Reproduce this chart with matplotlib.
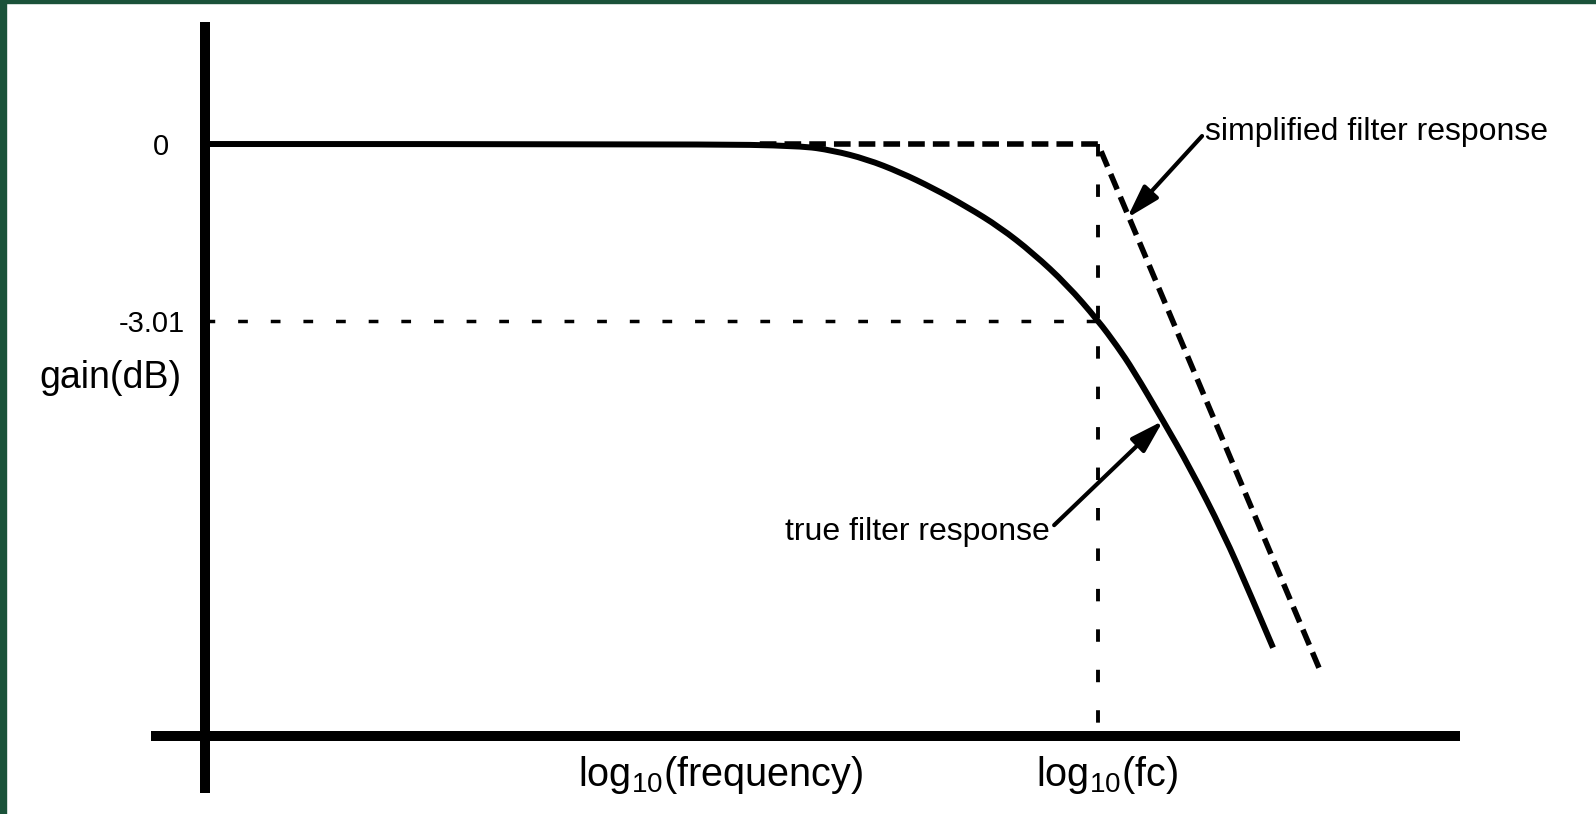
import matplotlib
matplotlib.use('Agg')
import matplotlib.pyplot as plt
from matplotlib.patches import Rectangle, PathPatch
from matplotlib.path import Path

plt.rcParams['font.family'] = ['Liberation Sans', 'DejaVu Sans']
plt.rcParams['mathtext.default'] = 'regular'

# x: log10(f / fc) in decades, y: gain in dB
true_x = [-1.812, -0.807, -0.604, -0.538, -0.469, -0.402, -0.335, -0.266,
          -0.199, -0.132, -0.063, 0.0, 0.039, 0.071, 0.132, 0.187, 0.254,
          0.308, 0.355]
true_db = [0.0, 0.0, -0.03, -0.11, -0.26, -0.48, -0.75, -1.07, -1.42,
           -1.86, -2.40, -3.01, -3.45, -3.85, -4.72, -5.53, -6.63, -7.66,
           -8.59]

simple_x = [-0.686, 0.0, 0.450]
simple_db = [0.0, 0.0, -8.97]

fc_x = 0.0
cutoff_db = -3.01
gain_tick_labels = ['0', '-3.01']

# axis extents (decades / dB)
yaxis_x = -1.812
xaxis_db = -10.10


def smooth_path(xs, ys):
    # quadratic b-spline through the read points, so the curve has no kinks
    pts = list(zip(xs, ys))
    verts = [pts[0]]
    codes = [Path.MOVETO]
    for i in range(1, len(pts) - 2):
        mid = ((pts[i][0] + pts[i + 1][0]) / 2, (pts[i][1] + pts[i + 1][1]) / 2)
        verts += [pts[i], mid]
        codes += [Path.CURVE3, Path.CURVE3]
    verts += [pts[-2], pts[-1]]
    codes += [Path.CURVE3, Path.CURVE3]
    return Path(verts, codes)


fig = plt.figure(figsize=(15.96, 8.14), dpi=100)
ax = fig.add_axes([0, 0, 1, 1])
ax.set_xlim(-2.227, 1.010)
ax.set_ylim(-11.426, 2.456)
ax.set_xticks([])
ax.set_yticks([])

for side in ['top', 'right']:
    ax.spines[side].set_visible(False)
ax.spines['left'].set_position(('data', yaxis_x))
ax.spines['left'].set_bounds(-11.07, 2.08)
ax.spines['bottom'].set_position(('data', xaxis_db))
ax.spines['bottom'].set_bounds(-1.921, 0.734)
for side in ['left', 'bottom']:
    ax.spines[side].set_linewidth(7.2)
    ax.spines[side].set_capstyle('butt')

# dotted guides at the cutoff
ax.plot([yaxis_x, fc_x], [cutoff_db, cutoff_db], color='black', lw=2.5,
        dashes=(2.8, 6.6), dash_capstyle='butt')
ax.plot([fc_x, fc_x], [0, xaxis_db], color='black', lw=2.8,
        dashes=(3.2, 7.2), dash_capstyle='butt')

ax.add_patch(PathPatch(smooth_path(true_x, true_db), facecolor='none',
                       edgecolor='black', lw=4.3, capstyle='butt'))
ax.plot(simple_x, simple_db, color='black', lw=4.0, dashes=(3.0, 1.45),
        dash_capstyle='butt')

# labels on the gain axis
ax.text(-1.884, -0.188, gain_tick_labels[0], fontsize=21, ha='right',
        va='baseline')
ax.text(-1.852, -3.206, gain_tick_labels[1], fontsize=21, ha='right',
        va='baseline')
ax.text(-1.858, -4.161, 'gain(dB)', fontsize=27, ha='right', va='baseline')

ax.text(-1.055, -10.948, 'log$_{10}$(frequency)', fontsize=28.5, ha='left',
        va='baseline')
ax.text(-0.126, -10.948, 'log$_{10}$(fc)', fontsize=28.5, ha='left',
        va='baseline')

arrow = dict(arrowstyle='-|>,head_length=2.0,head_width=0.6', color='black',
             lw=3.0, mutation_scale=10, shrinkA=0, shrinkB=0)
ax.text(0.217, 0.068, 'simplified filter response', fontsize=23, ha='left',
        va='baseline')
ax.annotate('', xy=(0.059, -1.262), xytext=(0.211, 0.136), arrowprops=arrow)
ax.text(-0.097, -6.75, 'true filter response', fontsize=23, ha='right',
        va='baseline')
ax.annotate('', xy=(0.132, -4.72), xytext=(-0.089, -6.50), arrowprops=arrow)

# dark green frame on the left and top edges
frame = '#1a5239'
fig.patches.append(Rectangle((0, 0), 6 / 1596, 1, transform=fig.transFigure,
                             color=frame, zorder=10))
fig.patches.append(Rectangle((0, 1 - 3 / 814), 1, 3 / 814,
                             transform=fig.transFigure, color=frame, zorder=10))

fig.savefig('out.png', dpi=100)
